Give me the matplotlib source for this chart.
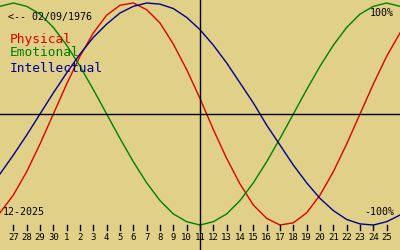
import matplotlib
matplotlib.use("Agg")
import matplotlib.pyplot as plt

# day labels under the ticks (Nov 27 .. Dec 25, 2025)
day_labels = ["27", "28", "29", "30"] + [str(d) for d in range(1, 26)]

# daily values, Nov 26 .. Dec 26 (31 days)
physical = [-0.89, -0.73, -0.52, -0.27, 0.00, 0.27, 0.52, 0.73, 0.89, 0.98,
            1.00, 0.94, 0.82, 0.63, 0.40, 0.14, -0.14, -0.40, -0.63, -0.82,
            -0.94, -1.00, -0.98, -0.89, -0.73, -0.52, -0.27, 0.00, 0.27, 0.52,
            0.73]
emotional = [0.97, 1.00, 0.97, 0.90, 0.78, 0.62, 0.43, 0.22, 0.00, -0.22,
             -0.43, -0.62, -0.78, -0.90, -0.97, -1.00, -0.97, -0.90, -0.78, -0.62,
             -0.43, -0.22, 0.00, 0.22, 0.43, 0.62, 0.78, 0.90, 0.97, 1.00,
             0.97]
intellectual = [-0.54, -0.37, -0.19, 0.00, 0.19, 0.37, 0.54, 0.69, 0.81, 0.91,
                0.97, 1.00, 0.99, 0.95, 0.87, 0.76, 0.62, 0.46, 0.28, 0.10,
                -0.10, -0.28, -0.46, -0.62, -0.76, -0.87, -0.95, -0.99, -1.00, -0.97,
                -0.91]

bg = "#e0d088"
red = "#e00000"
green = "#008000"
blue = "#000090"
mono = "DejaVu Sans Mono"

fig = plt.figure(figsize=(4, 2.5), dpi=100, facecolor=bg)
ax = fig.add_axes([0, 0, 1, 1])
ax.set_facecolor(bg)
ax.set_xlim(0, 30)
ax.set_ylim(-1.225, 1.027)
ax.axis("off")

days = list(range(len(physical)))
ax.plot(days, physical, color=red, lw=1)
ax.plot(days, emotional, color=green, lw=1)
ax.plot(days, intellectual, color=blue, lw=1)

ax.axhline(0, color="black", lw=1)
ax.axvline(15, color="black", lw=1)

# tick marks and day labels along the bottom
tr = ax.get_xaxis_transform()
for i, lab in enumerate(day_labels, start=1):
    ax.plot([i, i], [0.0800, 0.1000], color="black", lw=1, transform=tr)
    ax.text(i, 0.048, lab, transform=tr, ha="center", va="center",
            fontsize=6.5, family=mono)

ax.text(0.02, 0.932, "<-- 02/09/1976", transform=ax.transAxes, fontsize=7.2,
        family=mono, va="center")
ax.text(0.025, 0.844, "Physical", transform=ax.transAxes, fontsize=9.3,
        family=mono, color=red, va="center")
ax.text(0.025, 0.788, "Emotional", transform=ax.transAxes, fontsize=9.3,
        family=mono, color=green, va="center")
ax.text(0.025, 0.728, "Intellectual", transform=ax.transAxes, fontsize=9.3,
        family=mono, color=blue, va="center")
ax.text(0.008, 0.152, "12-2025", transform=ax.transAxes, fontsize=7.2,
        family=mono, va="center")
ax.text(0.985, 0.95, "100%", transform=ax.transAxes, fontsize=7.2,
        family=mono, va="center", ha="right")
ax.text(0.985, 0.152, "-100%", transform=ax.transAxes, fontsize=7.2,
        family=mono, va="center", ha="right")

fig.savefig("out.png", dpi=100, facecolor=bg)
